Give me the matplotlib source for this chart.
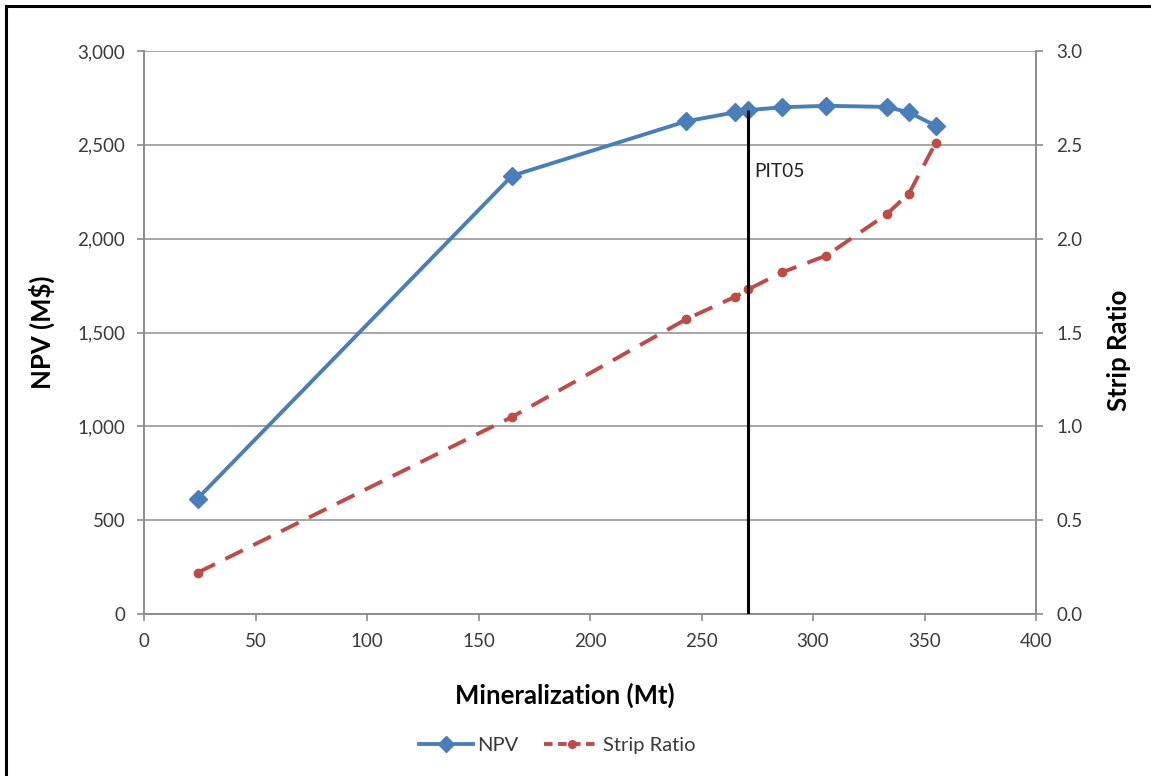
import matplotlib
matplotlib.use("Agg")
import matplotlib.pyplot as plt
from matplotlib.lines import Line2D
from matplotlib.patches import Rectangle
from matplotlib.ticker import FuncFormatter, MultipleLocator

plt.rcParams['font.family'] = ['Lato', 'DejaVu Sans']

# Pit shells: mineralization tonnage (Mt), NPV (M$) and strip ratio
mineralization = [24, 165, 243, 265, 271, 286, 306, 333, 343, 355]
npv = [615, 2335, 2625, 2673, 2685, 2700, 2708, 2702, 2673, 2602]
strip_ratio = [0.22, 1.05, 1.57, 1.69, 1.73, 1.82, 1.91, 2.13, 2.24, 2.51]

selected_pit = "PIT05"
selected_mt = 271

x_ticks = [0, 50, 100, 150, 200, 250, 300, 350, 400]

blue = "#4A7EBB"
red = "#BE4B48"
grid_gray = "#A6A6A6"
spine_gray = "#8C8C8C"
text_col = "#3A3A3A"

W, H = 1151, 776
fig = plt.figure(figsize=(W / 100, H / 100), dpi=100)
ax = fig.add_axes([144 / W, 1 - 614 / H, (1036 - 144) / W, (614 - 51) / H])
ax2 = ax.twinx()

# frame around the whole figure (top and left edges visible)
fig.patches.append(Rectangle((6 / W, -0.05), 1.1, 1 - 6 / H + 0.05,
                             transform=fig.transFigure, fill=False,
                             edgecolor="black", linewidth=2.2, zorder=10))

ax.set_xlim(0, 400)
ax.set_ylim(0, 3000)
ax2.set_ylim(0, 3.0)
ax.set_xticks(x_ticks)
ax.yaxis.set_major_locator(MultipleLocator(500))
ax2.yaxis.set_major_locator(MultipleLocator(0.5))
ax.yaxis.set_major_formatter(FuncFormatter(lambda v, p: f"{int(v):,}"))
ax2.yaxis.set_major_formatter(FuncFormatter(lambda v, p: f"{v:.1f}"))

ax.grid(axis="y", color=grid_gray, linewidth=1.4)
ax.set_axisbelow(True)

for a in (ax, ax2):
    a.spines["top"].set_visible(False)
    for side in ("left", "right", "bottom"):
        a.spines[side].set_color(spine_gray)
        a.spines[side].set_linewidth(1.4)
    a.tick_params(colors=spine_gray, labelcolor=text_col, labelsize=13.5,
                  length=5, width=1.2, pad=8.5)
ax2.tick_params(axis="y", pad=9.5)
ax.spines["right"].set_visible(False)
ax2.spines["left"].set_visible(False)
ax2.spines["bottom"].set_visible(False)

# series
ax.plot(mineralization, npv, color=blue, linewidth=2.8, marker="D",
        markersize=9, zorder=4)
ax2.plot(mineralization, strip_ratio, color=red, linewidth=2.8,
         linestyle=(0, (5, 3)), marker="o", markersize=6, zorder=4)

# selected pit marker line
sel_npv = npv[mineralization.index(selected_mt)]
ax2.set_zorder(ax.get_zorder() + 1)
ax2.patch.set_visible(False)
ax2.vlines(selected_mt, 0, sel_npv / 1000.0, color="black", linewidth=2.2, zorder=5)
ax2.text(selected_mt + 2.5, 2.36, selected_pit, fontsize=13.8, color="#222222",
         ha="left", va="center")

ax.set_xlabel("Mineralization (Mt)", fontsize=18.5, fontweight="bold", color="black")
ax.set_ylabel("NPV (M$)", fontsize=18.5, fontweight="bold", color="black")
ax2.set_ylabel("Strip Ratio", fontsize=18.5, fontweight="bold", color="black",
               rotation=90)
ax.xaxis.set_label_coords((565 - 144) / 892, -(683 - 614) / 563)
ax.yaxis.set_label_coords((55 - 144) / 892, 0.5)
ax2.yaxis.set_label_coords((1107 - 144) / 892, (614 - 350) / 563)

handles = [
    Line2D([], [], color=blue, linewidth=2.8, marker="D", markersize=8),
    Line2D([], [], color=red, linewidth=2.8, linestyle=(0, (2.2, 1.4)),
           marker="o", markersize=5.5),
]
fig.legend(handles, ["NPV", "Strip Ratio"], loc="center",
           bbox_to_anchor=(557 / W, 1 - 745 / H), ncol=2, frameon=False,
           fontsize=14.5, handlelength=2.7, columnspacing=1.3, handletextpad=0.2,
           labelcolor=text_col)

fig.savefig("out.png", dpi=100, facecolor="white")
